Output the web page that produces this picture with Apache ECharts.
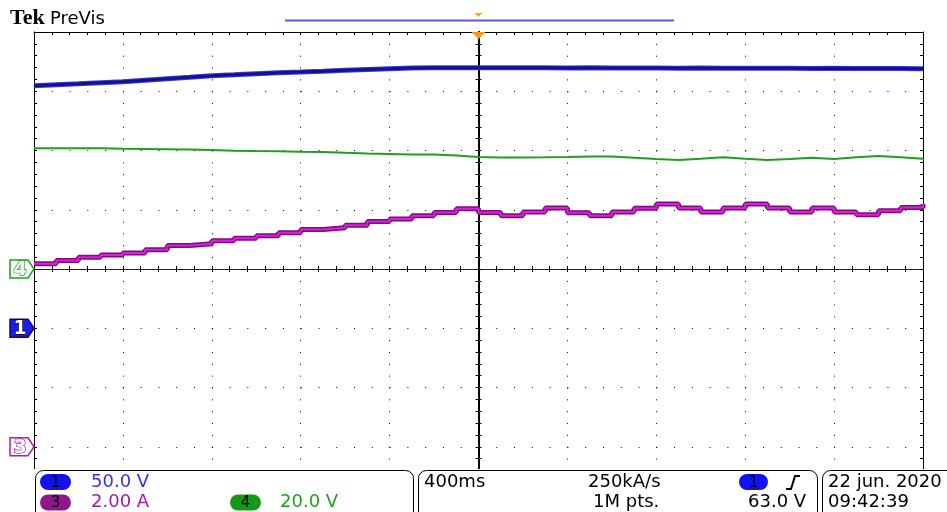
<!DOCTYPE html>
<html><head><meta charset="utf-8">
<script src="https://cdn.jsdelivr.net/npm/echarts@6/dist/echarts.min.js"></script>
<style>html,body{margin:0;padding:0;background:#fff;overflow:hidden}#c{width:947px;height:512px}</style>
</head><body><div id="c"></div><script>
const timeMs = [-2000,-1900,-1800,-1700,-1600,-1500,-1400,-1300,-1200,-1100,-1000,-900,-800,-700,-600,-500,-400,-300,-200,-100,0,100,200,300,400,500,600,700,800,900,1000,1100,1200,1300,1400,1500,1600,1700,1800,1900,2000];
const ch1Volts = [204.6,205.5,206.3,207.2,208.0,209.3,210.6,211.8,213.1,213.9,214.8,215.6,216.2,216.9,217.7,218.4,219.0,219.6,219.8,219.8,219.8,219.9,219.8,219.8,219.7,219.8,219.6,219.7,219.6,219.5,219.6,219.5,219.4,219.5,219.4,219.3,219.4,219.2,219.2,219.1,219.0];
const ch4Volts = [40.75,40.75,40.75,40.61,40.51,40.41,40.31,40.17,39.94,39.84,39.77,39.57,39.50,39.23,38.99,38.82,38.66,38.66,38.32,37.81,37.64,37.64,37.71,37.81,37.98,37.98,37.57,37.14,36.80,37.24,37.71,37.24,36.80,37.14,37.57,37.14,37.71,38.15,37.71,37.24,36.90];
const ch3Amps = [6.18,6.29,6.40,6.47,6.54,6.65,6.79,6.85,6.95,7.04,7.12,7.22,7.33,7.39,7.48,7.60,7.69,7.80,7.91,8.03,7.91,7.80,7.92,8.06,7.90,7.80,7.92,8.05,8.19,8.06,7.92,8.06,8.19,8.06,7.92,8.06,7.92,7.83,7.97,8.08,8.19];
// vertical settings per channel: units per division, ground position (divisions from centre)
const ch1PerDiv = 50, ch1Ground = -1;
const ch4PerDiv = 20, ch4Ground = 0;
const ch3PerDiv = 2,  ch3Ground = -3;
const timePerDiv = 400;
const infoRow1 = ['50.0 V','400ms','250kA/s','22 jun. 2020'];
const infoRow2 = ['2.00 A','20.0 V','1M pts.','63.0 V','09:42:39'];

// ---- layout ----
const G = {left:34, top:32, width:889, height:474};
const divX = G.width/10, divY = G.height/8;
const zip = (a,b)=>a.map((v,i)=>[v,b[i]]);
const FONT = '"DejaVu Sans", sans-serif';

const baseAxis = {
  type:'value', axisLabel:{show:false}, splitLine:{show:false},
  axisLine:{show:true, onZero:false, lineStyle:{color:'#000', width:1}},
  axisTick:{show:true, inside:true, length:3, lineStyle:{color:'#000', width:1}},
  minorTick:{show:true, splitNumber:5, length:3, lineStyle:{color:'#000', width:1}},
  minorSplitLine:{show:false}
};
const xr = {min:-5*timePerDiv, max:5*timePerDiv, interval:timePerDiv};
const yr = {min:-4, max:4, interval:1};
function ax(extra){ return Object.assign({}, JSON.parse(JSON.stringify(baseAxis)), extra); }
function chAxis(perDiv, ground){ return {type:'value', show:false, min:(-4-ground)*perDiv, max:(4-ground)*perDiv, splitLine:{show:false}}; }

const chart = echarts.init(document.getElementById('c'), null, {renderer:'canvas'});
chart.setOption({
  animation:false,
  backgroundColor:'#fff',
  grid:{left:G.left, top:G.top, width:G.width, height:G.height, show:false},
  xAxis:[
    ax(Object.assign({position:'bottom', axisLine:{show:true, onZero:true, onZeroAxisIndex:0, lineStyle:{color:'#222', width:1}},
      splitLine:{show:true, lineStyle:{color:'#000', width:1, type:[1, divY/5-1]}}}, xr)),
    ax(Object.assign({position:'top'}, xr)),
    ax(Object.assign({position:'bottom', axisLine:{show:true, onZero:true, onZeroAxisIndex:0, lineStyle:{color:'#222', width:1}},
      axisTick:{show:true, inside:false, length:3, lineStyle:{color:'#000'}}}, xr))
  ],
  yAxis:[
    ax(Object.assign({position:'left', splitLine:{show:true, lineStyle:{color:'#000', width:1, type:[1, divX/5-1]}}}, yr)),
    ax(Object.assign({position:'right'}, yr)),
    ax(Object.assign({position:'left', axisLine:{show:true, onZero:true, onZeroAxisIndex:0, lineStyle:{color:'#000', width:2}}}, yr)),
    ax(Object.assign({position:'left', axisLine:{show:true, onZero:true, onZeroAxisIndex:0, lineStyle:{color:'#000', width:2}},
      axisTick:{show:true, inside:false, length:3, lineStyle:{color:'#000'}}}, yr)),
    chAxis(ch1PerDiv, ch1Ground),
    chAxis(ch4PerDiv, ch4Ground),
    chAxis(ch3PerDiv, ch3Ground)
  ],
  series:[
    {type:'line', name:'CH4', xAxisIndex:0, yAxisIndex:5, data:zip(timeMs, ch4Volts), step:'end', symbol:'none', z:3,
      lineStyle:{color:'#1f9e1f', width:2}},
    {type:'line', name:'CH3 edge', xAxisIndex:0, yAxisIndex:6, data:zip(timeMs, ch3Amps), step:'end', symbol:'none', z:3,
      lineStyle:{color:'#7e0a7e', width:5}},
    {type:'line', name:'CH3', xAxisIndex:0, yAxisIndex:6, data:zip(timeMs, ch3Amps), step:'end', symbol:'none', z:4,
      lineStyle:{color:'#d624d6', width:2}},
    {type:'line', name:'CH1 edge', xAxisIndex:0, yAxisIndex:4, data:zip(timeMs, ch1Volts), symbol:'none', z:5,
      lineStyle:{color:'#3a3ad6', width:5}},
    {type:'line', name:'CH1', xAxisIndex:0, yAxisIndex:4, data:zip(timeMs, ch1Volts), symbol:'none', z:6,
      lineStyle:{color:'#121290', width:3}}
  ]
});

// ---- decorations (scope chrome) ----
const gY1 = chart.convertToPixel({yAxisIndex:4}, 0);
const gY4 = chart.convertToPixel({yAxisIndex:5}, 0);
const gY3 = chart.convertToPixel({yAxisIndex:6}, 0);
const trigX = chart.convertToPixel({xAxisIndex:0}, 0);
function marker(y, label, fill, stroke, digitFill, digitStroke){
  return [
    {type:'polygon', z:50, shape:{points:[[10,y-9],[28,y-9],[34,y],[28,y+9],[10,y+9]]}, style:{fill:fill, stroke:stroke, lineWidth:1.5}},
    {type:'text', z:51, style:{x:20, y:y+1, text:label, font:'bold 19px '+FONT, fill:digitFill, stroke:digitStroke, lineWidth:1.4, align:'center', verticalAlign:'middle'}}
  ];
}
function oval(x, y, w, h, fill, label){
  return [
    {type:'rect', z:60, shape:{x:x, y:y, width:w, height:h, r:h/2}, style:{fill:fill}},
    {type:'text', z:61, style:{x:x+w/2, y:y+h/2+1, text:label, font:'15px '+FONT, fill:'#000', align:'center', verticalAlign:'middle'}}
  ];
}
function txt(x, y, s, fill){ return {type:'text', z:61, style:{x:x, y:y, text:s, font:'18px '+FONT, fill:fill, align:'left', verticalAlign:'middle'}}; }
const r1 = 482, r2 = 502.5;
const els = [].concat(
  [
    {type:'text', z:50, style:{x:10, y:29, text:'Tek', font:'bold 22px "Liberation Serif", serif', fill:'#000', verticalAlign:'bottom'}},
    {type:'text', z:50, style:{x:50, y:28, text:'PreVis', font:'18px '+FONT, fill:'#000', verticalAlign:'bottom'}},
    {type:'line', z:50, shape:{x1:285, y1:20.5, x2:674, y2:20.5}, style:{stroke:'#5a5af5', lineWidth:2}},
    {type:'polygon', z:50, shape:{points:[[trigX-4,13],[trigX+4,13],[trigX,17]]}, style:{fill:'#f5a623'}},
    {type:'polygon', z:50, shape:{points:[[trigX-7,32],[trigX+7,32],[trigX,39]]}, style:{fill:'#f29a1a'}},
    {type:'rect', z:55, shape:{x:28, y:469, width:930, height:50}, style:{fill:'#fff'}},
    {type:'rect', z:56, shape:{x:35.5, y:470.5, width:378, height:60, r:8}, style:{fill:'#fff', stroke:'#000', lineWidth:1}},
    {type:'rect', z:56, shape:{x:418.5, y:470.5, width:399, height:60, r:8}, style:{fill:'#fff', stroke:'#000', lineWidth:1}},
    {type:'rect', z:56, shape:{x:822.5, y:470.5, width:140, height:60, r:8}, style:{fill:'#fff', stroke:'#000', lineWidth:1}},
    {type:'polyline', z:61, shape:{points:[[786,489],[791,489],[795,476],[800,476]]}, style:{stroke:'#000', lineWidth:2, fill:null}}
  ],
  marker(gY4, '4', '#fff', '#1f9e1f', '#fff', '#1f9e1f'),
  marker(gY1, '1', '#1c1cf0', '#10105a', '#fff', '#000'),
  marker(gY3, '3', '#fff', '#b01ab0', '#fff', '#b01ab0'),
  oval(40, 474, 31, 16, '#1212ee', '1'),
  oval(40, 494.5, 31, 16, '#8e168e', '3'),
  oval(230, 494.5, 31, 16, '#169816', '4'),
  oval(739, 474, 29, 16, '#1212ee', '1'),
  [
    txt(91, r1, infoRow1[0], '#3333ee'),
    txt(424, r1, infoRow1[1], '#000'),
    txt(588, r1, infoRow1[2], '#000'),
    txt(828, r1, infoRow1[3], '#000'),
    txt(91, r2, infoRow2[0], '#a31aa3'),
    txt(280, r2, infoRow2[1], '#22a022'),
    txt(593, r2, infoRow2[2], '#000'),
    txt(748, r2, infoRow2[3], '#000'),
    txt(828, r2, infoRow2[4], '#000')
  ]
);
chart.setOption({graphic:{elements:els}});
</script></body></html>
